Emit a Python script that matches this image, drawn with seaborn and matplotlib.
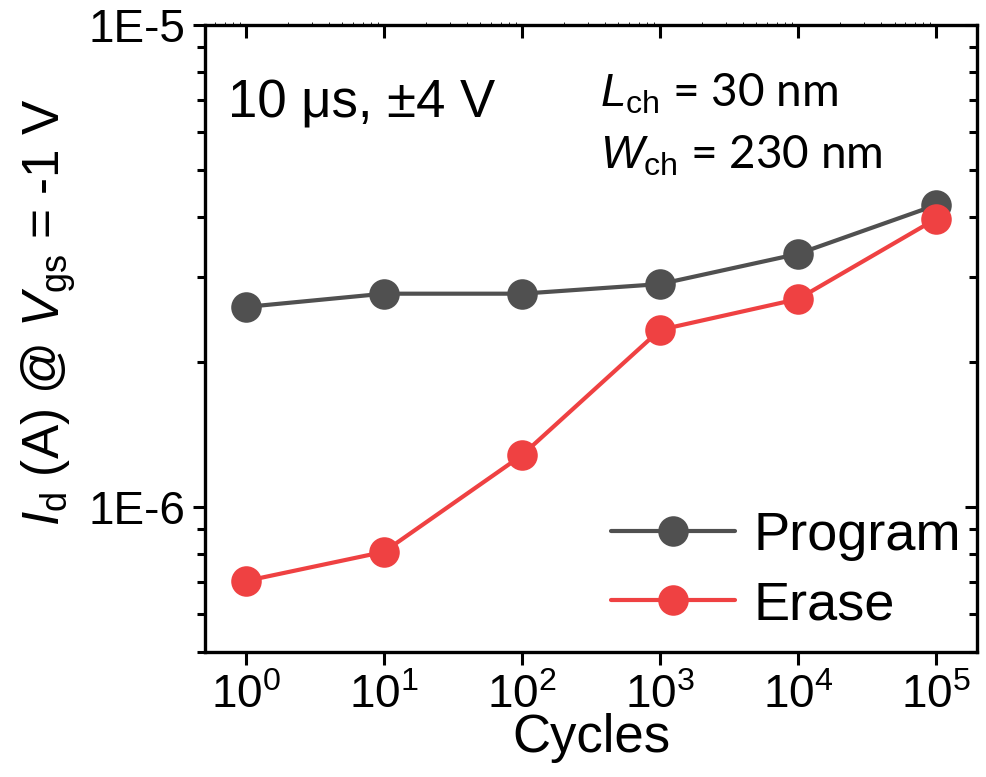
import numpy as np
import pandas as pd
import seaborn as sns
import matplotlib
matplotlib.use("Agg")
import matplotlib.pyplot as plt
from matplotlib.ticker import LogLocator, NullFormatter, FixedLocator, FixedFormatter

cycles = [1, 10, 100, 1000, 10000, 100000]
program = [2.60e-6, 2.77e-6, 2.77e-6, 2.90e-6, 3.35e-6, 4.23e-6]
erase = [7.02e-7, 8.07e-7, 1.28e-6, 2.33e-6, 2.70e-6, 3.96e-6]
series = ["Program", "Erase"]
colors = ["#505050", "#EF4142"]
ytick_vals = [1e-6, 1e-5]
ytick_labels = ["1E-6", "1E-5"]

sns.set_style("ticks")
plt.rcParams["font.family"] = ["Liberation Sans", "DejaVu Sans"]
plt.rcParams["mathtext.fontset"] = "custom"
plt.rcParams["mathtext.rm"] = "Liberation Sans"
plt.rcParams["mathtext.it"] = "Liberation Sans:italic"
plt.rcParams["mathtext.bf"] = "Liberation Sans:bold"
for k in ["text.color", "axes.labelcolor", "xtick.color", "ytick.color", "axes.edgecolor"]:
    plt.rcParams[k] = "black"

df = pd.DataFrame({
    "Cycles": cycles * 2,
    "Id": program + erase,
    "Type": [series[0]] * len(cycles) + [series[1]] * len(cycles),
})

fig = plt.figure(figsize=(9.87, 7.77), dpi=100)
ax = fig.add_axes([205 / 987, 1 - 652 / 777, (977 - 205) / 987, (652 - 25) / 777])

sns.lineplot(data=df, x="Cycles", y="Id", hue="Type", hue_order=series,
             palette=colors, marker="o", markersize=22, markeredgewidth=0,
             linewidth=3, ax=ax)

ax.set_xscale("log")
ax.set_yscale("log")
ax.set_xlim(0.505, 1.98e5)
ax.set_ylim(5.0e-7, 1e-5)

for s in ax.spines.values():
    s.set_visible(True)
    s.set_linewidth(2.4)
    s.set_color("black")

ax.xaxis.set_major_locator(FixedLocator(cycles))
ax.xaxis.set_major_formatter(FixedFormatter([r"$10^{%d}$" % int(np.log10(c)) for c in cycles]))
ax.xaxis.set_minor_locator(FixedLocator([]))
ax.yaxis.set_major_locator(FixedLocator(ytick_vals))
ax.yaxis.set_major_formatter(FixedFormatter(ytick_labels))
ax.yaxis.set_minor_locator(LogLocator(base=10, subs=np.arange(2, 10)))
ax.yaxis.set_minor_formatter(NullFormatter())

ax.tick_params(axis="x", which="major", direction="out", length=9, width=2.2,
               labelsize=33, pad=7, top=False)
ax.tick_params(axis="y", which="major", direction="out", length=9, width=2.2,
               labelsize=33, pad=5)
ax.tick_params(axis="y", which="minor", direction="out", length=6, width=2.2)

# inward ticks on top and right
axt = ax.secondary_xaxis("top")
axt.set_xticks(cycles)
axt.tick_params(direction="in", length=9, width=2.2, labeltop=False)
axt.spines["top"].set_visible(False)
axr = ax.secondary_yaxis("right")
axr.yaxis.set_major_locator(FixedLocator(ytick_vals))
axr.yaxis.set_minor_locator(LogLocator(base=10, subs=np.arange(2, 10)))
axr.yaxis.set_minor_formatter(NullFormatter())
axr.tick_params(which="major", direction="in", length=9, width=2.2, labelright=False)
axr.tick_params(which="minor", direction="in", length=6, width=2.2)
axr.spines["right"].set_visible(False)

ax.set_xlabel("Cycles", fontsize=38, labelpad=-4)
ax.set_ylabel(r"$I_\mathrm{d}$ (A) @ $V_\mathrm{gs}$ = -1 V", fontsize=37)
ax.yaxis.set_label_coords(-0.165, 0.542)

leg = ax.legend(loc="lower right", frameon=False, fontsize=39, handlelength=2.3,
                handletextpad=0.33, borderaxespad=0.1, labelspacing=0.36,
                borderpad=0.3, bbox_to_anchor=(1.007, 0.0))
for h in leg.legend_handles:
    h.set_markersize(22)
    h.set_linewidth(3)

fig.text(228 / 987, 1 - 118 / 777, "10 \u03bcs, \u00b14 V", fontsize=38,
         va="baseline", ha="left")
fig.text(600 / 987, 1 - 107 / 777, r"$L_\mathrm{ch}$ = 30 nm", fontsize=33,
         va="baseline", ha="left", family=["Lato", "DejaVu Sans"])
fig.text(600 / 987, 1 - 168 / 777, r"$W_\mathrm{ch}$ = 230 nm", fontsize=33,
         va="baseline", ha="left", family=["Lato", "DejaVu Sans"])

fig.savefig("out.png", dpi=100)
